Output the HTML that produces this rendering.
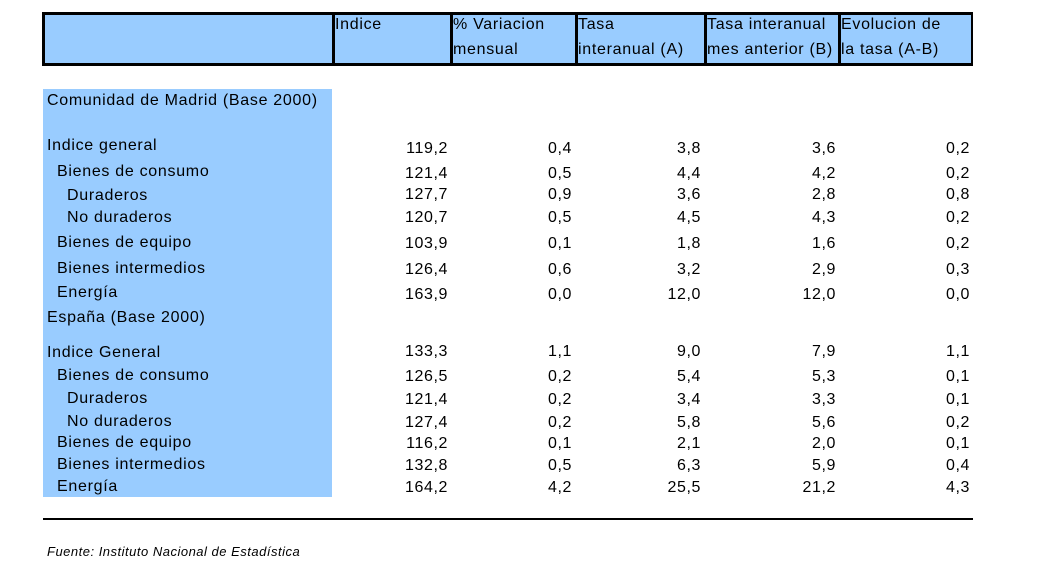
<!DOCTYPE html>
<html><head><meta charset="utf-8"><style>
body{margin:0;width:1044px;height:574px;background:#fff;position:relative;overflow:hidden;font-family:"Liberation Sans",sans-serif;color:#000}
.a{position:absolute;white-space:nowrap;font-size:16px;letter-spacing:0.7px;line-height:18px;height:18px}
.r{text-align:right}
</style></head><body>
<div style="position:absolute;left:42px;top:12px;width:926px;height:48px;background:#99ccff;border:3px solid #000;border-right-width:2px"></div>
<div style="position:absolute;left:43px;top:89px;width:289px;height:408px;background:#99ccff"></div>
<div style="position:absolute;left:43px;top:518px;width:930px;height:2px;background:#000"></div>
<div class="a" style="left:47px;top:543px;font-size:13px;letter-spacing:0.5px;font-style:italic">Fuente: Instituto Nacional de Estadística</div>
<script>
const headers=[["Indice",""],["% Variacion","mensual"],["Tasa","interanual (A)"],["Tasa interanual","mes anterior (B)"],["Evolucion de","la tasa (A-B)"]];
const labels=["Comunidad de Madrid (Base 2000)","Indice general","Bienes de consumo","Duraderos","No duraderos","Bienes de equipo","Bienes intermedios","Energía","España (Base 2000)","Indice General","Bienes de consumo","Duraderos","No duraderos","Bienes de equipo","Bienes intermedios","Energía"];
const indent=[0,0,1,2,2,1,1,1,0,0,1,2,2,1,1,1];
const indice=[null,"119,2","121,4","127,7","120,7","103,9","126,4","163,9",null,"133,3","126,5","121,4","127,4","116,2","132,8","164,2"];
const variacion=[null,"0,4","0,5","0,9","0,5","0,1","0,6","0,0",null,"1,1","0,2","0,2","0,2","0,1","0,5","4,2"];
const tasaA=[null,"3,8","4,4","3,6","4,5","1,8","3,2","12,0",null,"9,0","5,4","3,4","5,8","2,1","6,3","25,5"];
const tasaB=[null,"3,6","4,2","2,8","4,3","1,6","2,9","12,0",null,"7,9","5,3","3,3","5,6","2,0","5,9","21,2"];
const evol=[null,"0,2","0,2","0,8","0,2","0,2","0,3","0,0",null,"1,1","0,1","0,1","0,2","0,1","0,4","4,3"];
const labelY=[101,146,172,196,218,243,269,293,318,353,376,399,422,443,465,487];
const numY=[101,149,174,195,218,244,270,295,318,352,377,400,423,444,466,488];
const colDiv=[332,450,575,704,838];
const colRight=[448,572,701,836,970];
const cols=[indice,variacion,tasaA,tasaB,evol];
const colNames=["indice","variacion-mensual","tasa-interanual-a","tasa-mes-anterior-b","evolucion-tasa"];
function mk(txt,cls,style){const d=document.createElement('div');d.className=cls;d.textContent=txt;d.style.cssText=style;document.body.appendChild(d);return d;}
colDiv.forEach((x,i)=>{
 const v=document.createElement('div');
 
 
 v.style.cssText=`position:absolute;left:${x}px;top:12px;width:3px;height:52px;background:#000`;
 document.body.appendChild(v);
 const h=mk(headers[i][0]+(headers[i][1]?"\n"+headers[i][1]:""),'a',`left:${x+3}px;top:12px;height:50px;line-height:25px;white-space:pre`);
 
 
});
labels.forEach((t,i)=>{
 const l=mk(t,'a',`left:${47+[0,10,20][indent[i]]}px;top:${labelY[i]-9}px`);
 
 
 cols.forEach((c,j)=>{
  if(c[i]==null)return;
  const n=mk(c[i],'a r',`left:${colRight[j]-100}px;width:100px;top:${numY[i]-9}px;letter-spacing:0.6px`);
  
  
 });
});
</script>
</body></html>
